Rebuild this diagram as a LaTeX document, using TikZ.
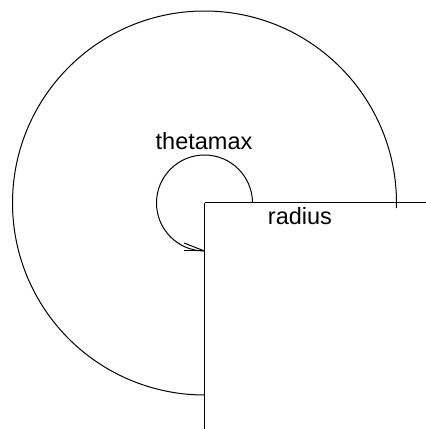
\documentclass[tikz,border=0pt]{standalone}
\usepackage{fontspec}
\setmainfont{Liberation Sans}
\usetikzlibrary{calc}
\begin{document}
\begin{tikzpicture}[x=1pt,y=1pt,line width=1pt,
  lbl/.style={font=\fontsize{23.5}{28}\selectfont,inner sep=0pt,anchor=base}]
\useasboundingbox (0,0) rectangle (426,429);
\coordinate (O) at (204.5,226);
\coordinate (E) at (426,226);
\coordinate (S) at (204.5,0);
\draw (O) -- (E);
\draw (O) -- (S);
% large arc
\draw ($(O)+(-1.5:192)$) arc[start angle=-1.5,end angle=270,radius=192];
% small arc with arrow
\draw ($(O)+(0:48)$) arc[start angle=0,end angle=270,radius=48] coordinate (A);
\coordinate (B1) at (184,186);
\coordinate (B2) at (184,178);
\draw (A) -- (B1);
\draw (A) -- (B2);
\node[lbl] (theta) at (204,279) {thetamax};
\node[lbl] (rad) at (300,204) {radius};
\end{tikzpicture}
\end{document}
